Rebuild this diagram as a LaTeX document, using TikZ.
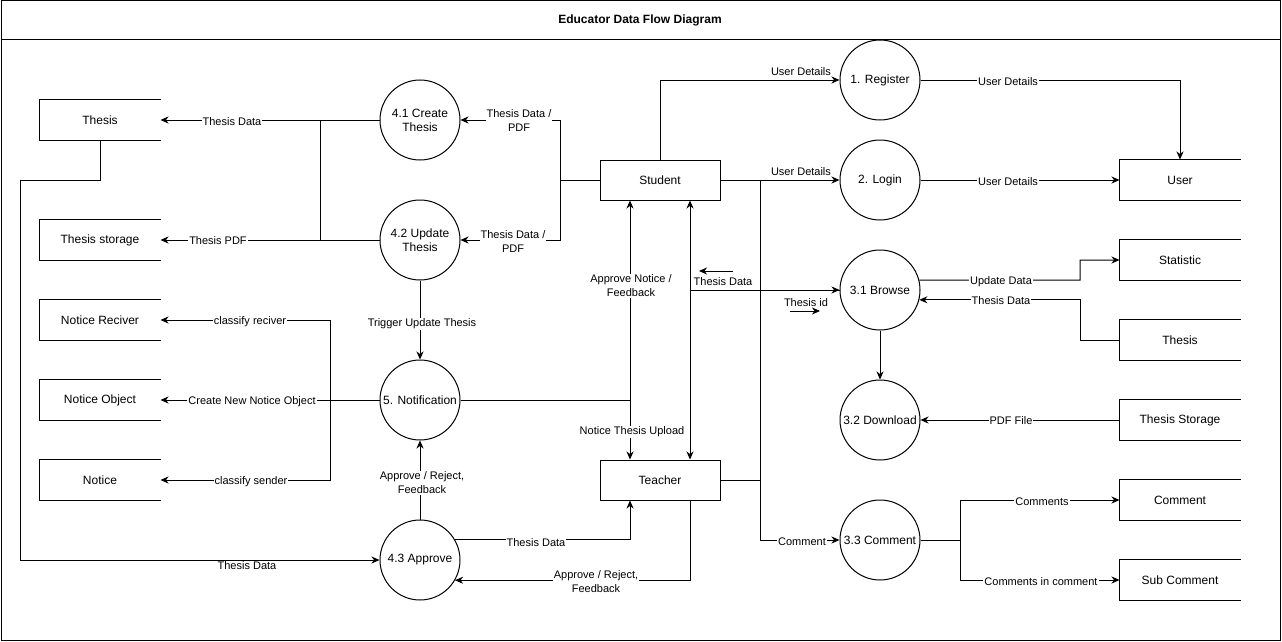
\documentclass[tikz,border=0pt]{standalone}
\usepackage{fontspec}
\setmainfont{Liberation Sans}
\usetikzlibrary{arrows.meta}
\begin{document}
\begin{tikzpicture}[x=1pt,y=-1pt,line width=1pt,
  proc/.style={draw,circle,minimum size=80pt,inner sep=0pt,align=center,font=\fontsize{12}{14}\selectfont},
  ent/.style={draw,rectangle,minimum width=120pt,minimum height=40pt,inner sep=0pt,font=\fontsize{12}{14}\selectfont},
  store/.style={rectangle,minimum width=120pt,minimum height=40pt,inner sep=0pt,font=\fontsize{12}{14}\selectfont},
  flow/.style={-{Stealth[length=8pt,width=7pt,inset=2.5pt]}},
  flowb/.style={{Stealth[length=8pt,width=7pt,inset=2.5pt]}-{Stealth[length=8pt,width=7pt,inset=2.5pt]}},
  lbl/.style={fill=white,inner sep=1pt,align=center,font=\fontsize{11}{14}\selectfont},
  lbln/.style={inner sep=1pt,align=center,font=\fontsize{11}{14}\selectfont}]
\useasboundingbox (0,0) rectangle (1282,642);
\draw (1,1) rectangle (1280,640);
\draw (1,40) -- (1280,40);
\node[font=\bfseries\fontsize{12}{14}\selectfont] (title) at (640,20) {Educator Data Flow Diagram};

% processes
\node[proc] (p41) at (420,120) {4.1 Create\\Thesis};
\node[proc] (p42) at (420,240) {4.2 Update\\Thesis};
\node[proc] (p5)  at (420,400) {5. Notification};
\node[proc] (p43) at (420,560) {4.3 Approve};
\node[proc] (p1)  at (880,80)  {1. Register};
\node[proc] (p2)  at (880,180) {2. Login};
\node[proc] (p31) at (880,290) {3.1 Browse};
\node[proc] (p32) at (880,420) {3.2 Download};
\node[proc] (p33) at (880,540) {3.3 Comment};

% entities
\node[ent] (student) at (660,180) {Student};
\node[ent] (teacher) at (660,480) {Teacher};

% data stores
\node[store] (sThesis)  at (100,120) {Thesis};
\node[store] (sThStor)  at (100,240) {Thesis storage};
\node[store] (sNRec)    at (100,320) {Notice Reciver};
\node[store] (sNObj)    at (100,400) {Notice Object};
\node[store] (sNot)     at (100,480) {Notice};
\node[store] (sUser)    at (1180,180) {User};
\node[store] (sStat)    at (1180,260) {Statistic};
\node[store] (sThesisR) at (1180,340) {Thesis};
\node[store] (sThStorR) at (1180,420) {Thesis Storage};
\node[store] (sCom)     at (1180,500) {Comment};
\node[store] (sSub)     at (1180,580) {Sub Comment};
\foreach \n in {sThesis,sThStor,sNRec,sNObj,sNot,sUser,sStat,sThesisR,sThStorR,sCom,sSub}
  \draw (\n.north east) -- (\n.north west) -- (\n.south west) -- (\n.south east);

% connectors
\draw[flow] (student.north) |- (p1.west);
\draw[flow] (p1.east) -| (sUser.north);
\draw[flow] (student.east) -- (p2.west);
\draw[flow] (p2.east) -- (sUser.west);
\draw[flow] (p31.14.48) -- (1080,280) |- (sStat.west);
\draw[flow] (sThesisR.west) -- (1080,340) |- (p31.-14.48);
\draw[flow] (p31.south) -- (p32.north);
\draw[flow] (sThStorR.west) -- (p32.east);
\draw[flow] (student.east) -- (760,180) |- (p33.west);
\draw (teacher.east) -- (760,480);
\draw[flow] (p33.east) -- (960,540) |- (sCom.west);
\draw[flow] (p33.east) -- (960,540) |- (sSub.west);
\draw[flowb] (p31.west) -| ([xshift=30pt]student.south);
\draw[flow] (p31.west) -| ([xshift=30pt]teacher.north);
\draw[flow] (p5.east) -| ([xshift=-30pt]student.south);
\draw[flow] (p5.east) -| ([xshift=-30pt]teacher.north);
\draw[flow] (student.west) -- (560,180) |- (p41.east);
\draw[flow] (student.west) -- (560,180) |- (p42.east);
\draw[flow] (p41.west) -- (sThesis.east);
\draw[flow] (p42.west) -- (sThStor.east);
\draw (320,120) -- (320,240);
\draw[flow] (p42.south) -- (p5.north);
\draw[flow] (p5.west) -- (sNObj.east);
\draw[flow] (p5.west) -- (330,400) |- (sNRec.east);
\draw[flow] (p5.west) -- (330,400) |- (sNot.east);
\draw[flow] (p43.north) -- (p5.south);
\draw[flow] (sThesis.south) -- (100,180) -- (20,180) |- (p43.west);
\draw[flow] (p43.30) -| ([xshift=-30pt]teacher.south);
\draw[flow] ([xshift=30pt]teacher.south) |- (p43.-30);
\coordinate (a1s) at (733,271); \coordinate (a1e) at (699,271);
\coordinate (a2s) at (790,311); \coordinate (a2e) at (820,311);
\draw[flow] (a1s) -- (a1e);
\draw[flow] (a2s) -- (a2e);

% labels
\node[lbln] (l1) at (801,72) {User Details};
\node[lbl] (l2) at (1008,82) {User Details};
\node[lbln] (l3) at (801,172) {User Details};
\node[lbl] (l4) at (1008,182) {User Details};
\node[lbl] (l5) at (1001,282) {Update Data};
\node[lbl] (l6) at (1001,301) {Thesis Data};
\node[lbl] (l7) at (1011,421) {PDF File};
\node[lbl] (l8) at (802,542) {Comment};
\node[lbl] (l9) at (1042,502) {Comments};
\node[lbl] (l10) at (1041,582) {Comments in comment};
\node[lbln] (l11) at (723,282) {Thesis Data};
\node[lbln] (l12) at (806,303) {Thesis id};
\node[lbl] (l13) at (631,286) {Approve Notice /\\Feedback};
\node[lbl] (l14) at (632,432) {Notice Thesis Upload};
\node[lbl] (l15) at (519,121) {Thesis Data /\\PDF};
\node[lbl] (l16) at (513,242) {Thesis Data /\\PDF};
\node[lbl] (l17) at (232,122) {Thesis Data};
\node[lbl] (l18) at (218,241) {Thesis PDF};
\node[lbl] (l19) at (422,324) {Trigger Update Thesis};
\node[lbl] (l20) at (250,322) {classify reciver};
\node[lbl] (l21) at (252,402) {Create New Notice Object};
\node[lbl] (l22) at (251,482) {classify sender};
\node[lbl] (l23) at (422,483) {Approve / Reject,\\Feedback};
\node[lbl] (l24) at (536,543) {Thesis Data};
\node[lbl] (l25) at (596,582) {Approve / Reject,\\Feedback};
\node[lbl] (l26) at (247,566) {Thesis Data};
\end{tikzpicture}
\end{document}
